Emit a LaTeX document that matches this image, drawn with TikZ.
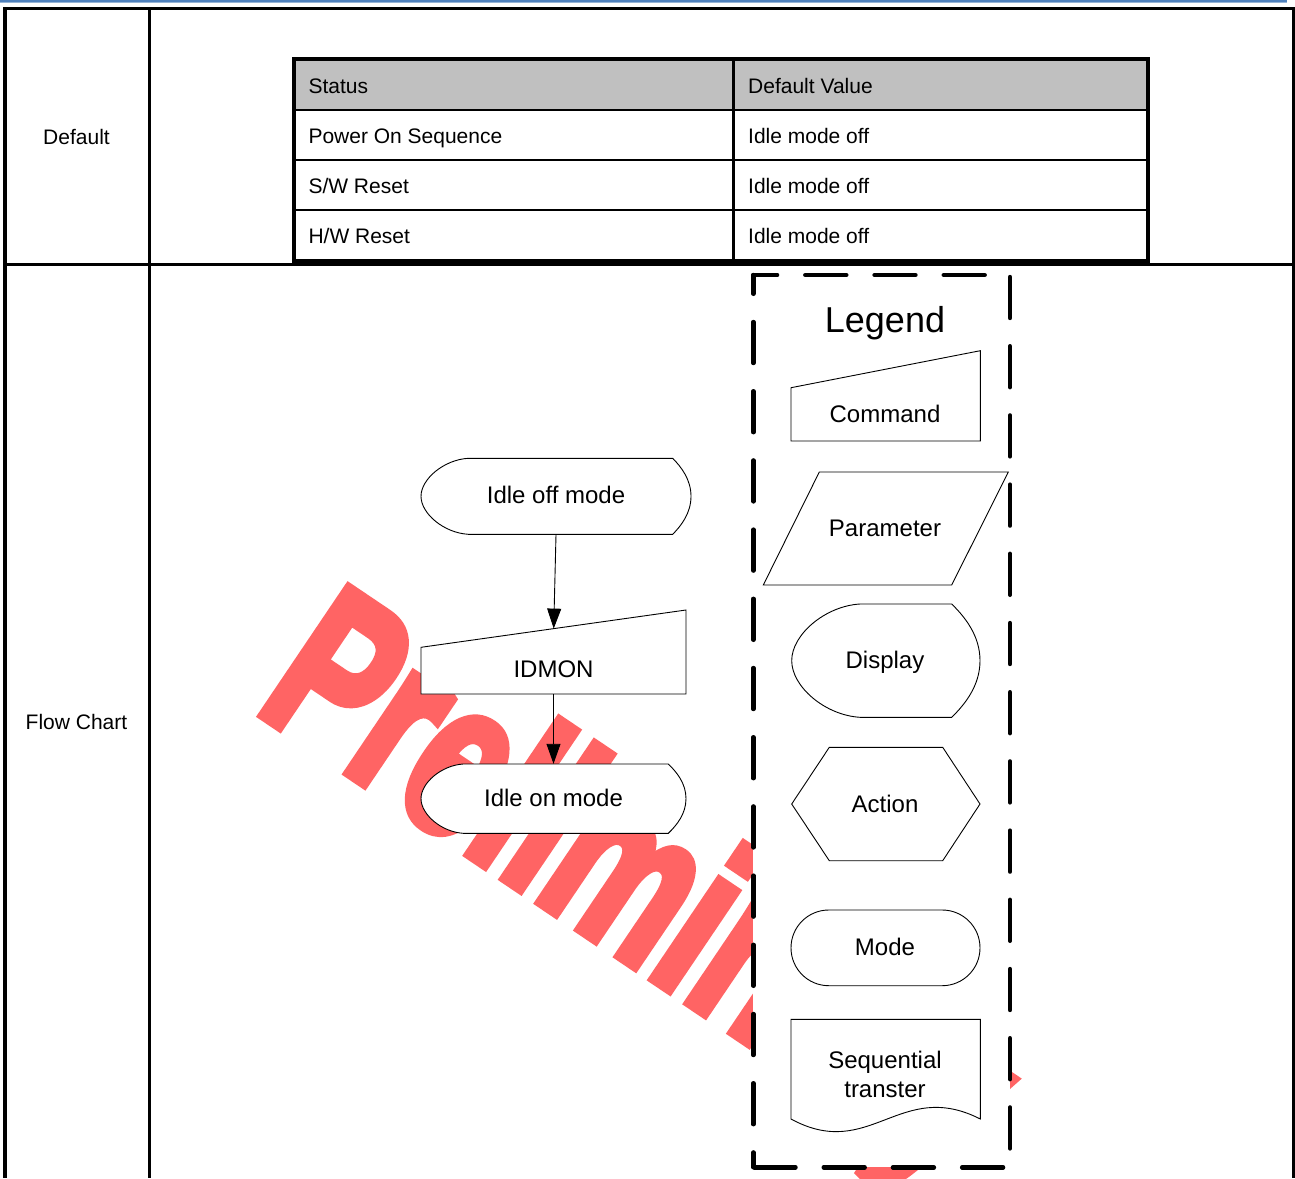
\documentclass[tikz,border=0pt]{standalone}
\usepackage{fontspec}
\setmainfont{Liberation Sans}
\newfontfamily\wmfont[BoldFeatures={FakeBold=5}]{Liberation Sans}
\usetikzlibrary{arrows.meta}
\definecolor{wmred}{RGB}{255,100,100}
\definecolor{topblue}{RGB}{79,129,189}
\definecolor{topbluelight}{RGB}{150,180,215}
\definecolor{hdrgray}{RGB}{192,192,192}
\newcommand\wmtext{\scalebox{1}[1.44]{Preliminary}}
% display shape: #1 left point x, #2 left flat x, #3 right flat x, #4 right point x, #5 top y, #6 bottom y
\newcommand\dispshape[6]{%
  \pgfmathsetmacro\zzym{(#5+#6)/2}%
  \pgfmathsetmacro\zzH{#6-#5}%
  \pgfmathsetmacro\zzLa{#2-0.51*(#2-#1)}%
  \pgfmathsetmacro\zzLt{#5+0.018*\zzH}%
  \pgfmathsetmacro\zzLb{#6-0.018*\zzH}%
  \pgfmathsetmacro\zzLm{\zzym-0.23*\zzH}%
  \pgfmathsetmacro\zzLn{\zzym+0.23*\zzH}%
  \pgfmathsetmacro\zzRa{#3+0.47*(#4-#3)}%
  \pgfmathsetmacro\zzRt{#5+0.115*\zzH}%
  \pgfmathsetmacro\zzRb{#6-0.115*\zzH}%
  \pgfmathsetmacro\zzRm{\zzym-0.22*\zzH}%
  \pgfmathsetmacro\zzRn{\zzym+0.22*\zzH}%
  \draw[shp] (#2,#5) -- (#3,#5)
    .. controls (\zzRa,\zzRt) and (#4,\zzRm) .. (#4,\zzym)
    .. controls (#4,\zzRn) and (\zzRa,\zzRb) .. (#3,#6)
    -- (#2,#6)
    .. controls (\zzLa,\zzLb) and (#1,\zzLn) .. (#1,\zzym)
    .. controls (#1,\zzLm) and (\zzLa,\zzLt) .. cycle;%
}
\begin{document}
\begin{tikzpicture}[x=1pt,y=-1pt,
  tbltext/.style={font=\fontsize{21}{21}\selectfont, inner sep=0pt, text height=15pt, text depth=0pt, anchor=west},
  lbltext/.style={font=\fontsize{21}{21}\selectfont, inner sep=0pt, text height=15pt, text depth=0pt},
  fctext/.style={font=\fontsize{24}{24}\selectfont, inner sep=0pt, text height=17.2pt, text depth=0pt},
  shp/.style={draw=black, line width=0.9pt, fill=white, line join=miter},
  arr/.style={draw=black, line width=0.9pt, -{Triangle[length=20pt,width=14pt]}},
  legdash/.style={line width=4.4pt, line cap=round, dash pattern=on 41pt off 28.2pt},
  tblrule/.style={fill=black}
]
\useasboundingbox (0,0) rectangle (1295,1178);
\fill[white] (0,0) rectangle (1295,1178);

% top blue rule
\fill[topblue] (0,0) rectangle (1287,2);
\fill[topbluelight] (0,2) rectangle (1287,3.2);

% watermark
\node[rotate=-34, anchor=base west, inner sep=0pt, text=wmred,
      font=\fontsize{154}{154}\selectfont\wmfont\bfseries] (wm) at (253.6,708.5)
      {\wmtext};

% legend area (white, hides watermark)
\fill[white] (753.3,275) rectangle (1010,1167.3);

% outer table rules
\fill[tblrule] (3.3,7.3) rectangle (1295,10.3);
\fill[tblrule] (3.3,7.3) rectangle (7.3,1178);
\fill[tblrule] (1291.7,7.3) rectangle (1295,1178);
\fill[tblrule] (148.3,7.3) rectangle (150.7,1178);
\fill[tblrule] (3.3,263.3) rectangle (1295,265.7);

% inner table
\fill[hdrgray] (294.3,59.2) rectangle (1148,110);
\draw[line width=2pt] (294.3,110) -- (1148,110);
\draw[line width=2pt] (294.3,160) -- (1148,160);
\draw[line width=2pt] (294.3,210) -- (1148,210);
\draw[line width=2.4pt] (733.3,59.2) -- (733.3,261.3);
\draw[line width=4.2pt] (294.3,59.2) rectangle (1148,261.3);

\node[tbltext] (hstatus) at (308.3,86) {Status};
\node[tbltext] (hdefault) at (748,86) {Default Value};
\node[tbltext] (r1a) at (308.3,136) {Power On Sequence};
\node[tbltext] (r1b) at (748,136) {Idle mode off};
\node[tbltext] (r2a) at (308.3,186) {S/W Reset};
\node[tbltext] (r2b) at (748,186) {Idle mode off};
\node[tbltext] (r3a) at (308.3,236) {H/W Reset};
\node[tbltext] (r3b) at (748,236) {Idle mode off};

% left column labels
\node[lbltext] (lblDefault) at (76.5,137) {Default};
\node[lbltext] (lblFlow) at (76.5,722) {Flow Chart};

% flow chart shapes
\dispshape{421}{468.3}{672.7}{691}{458.3}{534.3}
\draw[shp] (421,647.3) -- (686,610) -- (686,694) -- (421,694) -- cycle;
\dispshape{421}{463.3}{668.3}{686}{764}{833.3}

\node[fctext, minimum width=270pt, minimum height=78.6pt] (off) at (556,495) {Idle off mode};
\node[fctext, minimum width=265pt, minimum height=50pt] (idmon) at (553.5,669) {IDMON};
\node[fctext, minimum width=265pt, minimum height=67pt] (on) at (553.5,797.5) {Idle on mode};
\coordinate (idmonTop) at (553.7,628.6);

\draw[arr] (off.south) -- (idmonTop);
\draw[arr] (idmon.south) -- (on.north);

% legend shapes
\draw[shp] (791,387.7) -- (980.3,350.7) -- (980.3,441) -- (791,441) -- cycle;
\draw[shp] (819.3,472) -- (1008.3,472) -- (951.7,585) -- (763.3,585) -- cycle;
\dispshape{791.7}{860}{951.7}{980}{604}{717.3}
\draw[shp] (829.3,747.3) -- (942.7,747.3) -- (980,804) -- (942.7,860.7) -- (829.3,860.7) -- (791.7,804) -- cycle;
\draw[shp, rounded corners=37.8pt] (791,910) rectangle (980,985.7);
\draw[shp] (791,1019.3) -- (980.3,1019.3) -- (980.3,1119)
   .. controls (900,1078) and (870,1162) .. (791,1119) -- cycle;

\node[font=\fontsize{36}{36}\selectfont, inner sep=0pt, text height=25.8pt, text depth=0pt] (legend) at (885,320) {Legend};
\node[fctext] (lgCommand) at (885,414) {Command};
\node[fctext] (lgParameter) at (885,528) {Parameter};
\node[fctext] (lgDisplay) at (885,660) {Display};
\node[fctext] (lgAction) at (885,803.5) {Action};
\node[fctext] (lgMode) at (885,946.7) {Mode};
\node[font=\fontsize{24}{29}\selectfont, inner sep=0pt, align=center] (lgSeq) at (885,1074) {Sequential\\transter};

% legend dashed border
\draw[legdash, dash phase=17.2pt] (753.3,275) -- (1010,275);
\draw[legdash, dash phase=22.2pt] (753.3,275) -- (753.3,1167.3);
\draw[legdash, dash phase=68pt] (753.3,1167.3) -- (1010,1167.3);
\draw[legdash, dash phase=67.2pt] (1010,275) -- (1010,1167.3);
\end{tikzpicture}
\end{document}
